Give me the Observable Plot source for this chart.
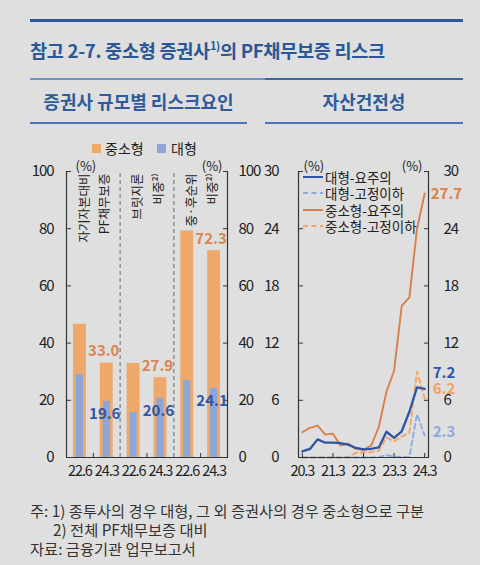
<!DOCTYPE html>
<html><head><meta charset="utf-8">
<script src="https://cdn.jsdelivr.net/npm/d3@7"></script>
<script src="https://cdn.jsdelivr.net/npm/@observablehq/plot@0.6"></script>
<style>
body{margin:0;background:#dfdfdf;}
#root{position:relative;width:480px;height:565px;overflow:hidden;background:#dfdfdf;font-family:"Noto Sans CJK KR","Noto Sans",sans-serif;color:#222;}
.abs{position:absolute;white-space:nowrap;}
.hline{position:absolute;height:0;}
#root svg g[aria-label$="tick label"] text{letter-spacing:-1.1px;}
</style></head>
<body>
<div id="root">
  <div class="hline" style="left:30px;top:19px;width:433px;border-top:3px solid #2b5797"></div>
  <div class="abs" style="left:30px;top:36px;font-size:18.6px;font-weight:bold;color:#2b5797;letter-spacing:-0.3px">참고 2-7. 중소형 증권사<sup style="font-size:11px;vertical-align:8px">1)</sup>의 PF채무보증 리스크</div>
  <div class="hline" style="left:30px;top:78px;width:235px;border-top:2px solid #6f93c8"></div>
  <div class="hline" style="left:265px;top:78px;width:198px;border-top:2px solid #3d66ab"></div>
  <div class="abs" style="left:30px;width:217px;top:88px;text-align:center;font-size:18px;font-weight:bold;color:#2f5b9a">증권사 규모별 리스크요인</div>
  <div class="abs" style="left:265px;width:198px;top:88px;text-align:center;font-size:18px;font-weight:bold;color:#2f5b9a">자산건전성</div>
  <div class="hline" style="left:30px;top:122px;width:217px;border-top:2px solid #4a74b4"></div>
  <div class="hline" style="left:265px;top:122px;width:198px;border-top:2px solid #4a74b4"></div>

  <div class="abs" style="left:92px;top:144px;width:9px;height:9px;background:#eea86a"></div>
  <div class="abs" style="left:105px;top:139px;font-size:14px;line-height:18px">중소형</div>
  <div class="abs" style="left:157px;top:144px;width:9px;height:9px;background:#8ca6d8"></div>
  <div class="abs" style="left:171px;top:139px;font-size:14px;line-height:18px">대형</div>

  <div id="left" class="abs" style="left:0;top:140px"></div>
  <div id="right" class="abs" style="left:260px;top:140px"></div>
  <div id="legend" class="abs" style="left:303px;top:169px;font-size:13.5px;line-height:16.3px"></div>

  <div class="abs" style="left:30px;top:501px;font-size:15.3px;color:#333;line-height:19px">주: 1) 종투사의 경우 대형, 그 외 증권사의 경우 중소형으로 구분<br><span style="padding-left:23px">2) 전체 PF채무보증 대비</span><br>자료: 금융기관 업무보고서</div>
</div>
<script>
// ---------- data: left panel ----------
const periods = ["22.6", "24.3", "22.6", "24.3", "22.6", "24.3"];
const groupLabels = ["자기자본대비\nPF채무보증", "브릿지론\n비중²⁾", "중·후순위\n비중²⁾"];
const smallShare = [46.6, 33.0, 32.9, 27.9, 79.2, 72.3];   // 중소형
const largeShare = [28.9, 19.6, 15.7, 20.6, 26.9, 24.1];   // 대형
const leftTicks = [0, 20, 40, 60, 80, 100];

// ---------- data: right panel ----------
const quarters = ["20.3","20.6","20.9","20.12","21.3","21.6","21.9","21.12","22.3","22.6","22.9","22.12","23.3","23.6","23.9","23.12","24.3"];
const quarterTicks = ["20.3","21.3","22.3","23.3","24.3"];
const largeWatch   = [0.65, 0.9, 1.9, 1.55, 1.55, 1.5, 1.35, 1.0, 0.85, 0.9, 1.05, 2.7, 2.05, 2.75, 4.8, 7.35, 7.2];   // 대형-요주의
const largeSub     = [0, 0, 0, 0, 0, 0, 0, 0, 0, 0, 0.05, 0.25, 0.1, 0.05, 0.05, 4.55, 2.3];                           // 대형-고정이하
const smallWatch   = [2.65, 3.1, 3.35, 2.4, 2.5, 1.25, 1.45, 0.9, 0.8, 1.25, 3.2, 6.9, 9.1, 15.9, 16.8, 24.0, 27.7];   // 중소형-요주의
const smallSub     = [0, 0, 0, 0, 0, 0, 0.05, 0.5, 0.55, 0.55, 0.7, 2.1, 1.7, 2.2, 2.6, 9.0, 6.2];                      // 중소형-고정이하
const rightTicks = [0, 6, 12, 18, 24, 30];
const seriesNames = ["대형-요주의", "대형-고정이하", "중소형-요주의", "중소형-고정이하"];

const ORANGE = "#eea86a", BLUE = "#8ca6d8";
const ORANGE_TXT = "#d9854f", BLUE_TXT = "#2f56a6";
const LC = {"대형-요주의": "#2e55a5", "대형-고정이하": "#8eaadf", "중소형-요주의": "#d9804a", "중소형-고정이하": "#f3a566"};
const DASH = {"대형-요주의": null, "대형-고정이하": "5,3.5", "중소형-요주의": null, "중소형-고정이하": "5,3.5"};
const FONT = "'Noto Sans CJK KR','Noto Sans',sans-serif";
const AX = "#333";

// ---------- left chart ----------
const leftData = periods.map((p, i) => ({i, period: p, small: smallShare[i], large: largeShare[i]}));
const groups = groupLabels.map((g, k) => ({k, label: g}));
const labeled = leftData.filter(d => d.i % 2 === 1);

const left = Plot.plot({
  width: 260, height: 345,
  marginLeft: 66, marginRight: 33, marginTop: 31, marginBottom: 28,
  style: {background: "transparent", fontFamily: FONT, fontSize: "14px", color: "#222", overflow: "visible"},
  x: {domain: [0, 6], axis: null, label: null},
  y: {domain: [0, 100], axis: null, label: null},
  marks: [
    Plot.ruleX([2, 4], {y1: 0, y2: 100, stroke: "#8c8c8c", strokeWidth: 1.4, strokeDasharray: "4,3"}),
    Plot.rectY(leftData, {x1: d => d.i + 0.26, x2: d => d.i + 0.74, y: "small", fill: ORANGE}),
    Plot.rectY(leftData, {x1: d => d.i + 0.37, x2: d => d.i + 0.63, y: "large", fill: BLUE}),
    Plot.ruleX([0, 6], {y1: 0, y2: 100, stroke: AX, strokeWidth: 1.2}),
    Plot.ruleY([0], {stroke: AX, strokeWidth: 1.2}),
    Plot.axisY(leftTicks, {anchor: "left", tickSize: 0, tickPadding: 13, label: null, fontSize: 15}),
    Plot.axisY(leftTicks, {anchor: "left", tickSize: -5, tickFormat: () => "", label: null, stroke: AX}),
    Plot.axisY(leftTicks, {anchor: "right", tickSize: 0, tickPadding: 11, label: null, fontSize: 15}),
    Plot.axisY(leftTicks, {anchor: "right", tickSize: -5, tickFormat: () => "", label: null, stroke: AX}),
    Plot.axisX([1, 3, 5], {anchor: "bottom", tickSize: -4, tickFormat: () => "", label: null, stroke: AX}),
    Plot.axisX(leftData.map(d => d.i + 0.5), {anchor: "bottom", tickSize: 0, tickPadding: 8, tickFormat: d => periods[Math.round(d - 0.5)], label: null, fontSize: 14.5}),
    Plot.text(groups, {x: d => d.k * 2 + 1, y: 100, text: "label", rotate: -90, textAnchor: "end", lineAnchor: "middle", lineHeight: 1.65, fontSize: 12.5, dy: 2, dx: -1}),
    Plot.text(labeled, {x: d => d.i + 0.5, y: "small", text: d => d.small.toFixed(1), dy: -12, dx: -3, fill: ORANGE_TXT, fontWeight: "bold", fontSize: 15}),
    Plot.text(labeled, {x: d => d.i + 0.5, y: "large", text: d => d.large.toFixed(1), dy: 13, dx: -2, fill: BLUE_TXT, fontWeight: "bold", fontSize: 15}),
    Plot.text(["(%)"], {frameAnchor: "top-left", dx: 9, dy: -10, fontSize: 13}),
    Plot.text(["(%)"], {frameAnchor: "top-right", dx: -5, dy: -10, fontSize: 13})
  ]
});
document.getElementById("left").appendChild(left);

// ---------- right chart ----------
const seriesVals = [largeWatch, largeSub, smallWatch, smallSub];
const rows = [];
seriesVals.forEach((vals, s) => vals.forEach((v, i) => rows.push({i, q: quarters[i], series: seriesNames[s], value: v})));
const drawOrder = ["중소형-요주의", "중소형-고정이하", "대형-고정이하", "대형-요주의"];
const lastOf = name => rows.filter(r => r.series === name && r.i === quarters.length - 1);
const tickIdx = quarterTicks.map(t => quarters.indexOf(t));

const right = Plot.plot({
  width: 220, height: 345,
  marginLeft: 38, marginRight: 52, marginTop: 31, marginBottom: 28,
  style: {background: "transparent", fontFamily: FONT, fontSize: "14px", color: "#222", overflow: "visible"},
  x: {domain: [-0.5, quarters.length - 0.5], axis: null, label: null},
  y: {domain: [0, 30], axis: null, label: null},
  marks: [
    ...drawOrder.map(name => Plot.line(rows.filter(r => r.series === name), {
      x: "i", y: "value", stroke: LC[name], strokeWidth: name === "대형-요주의" ? 2.3 : 1.9,
      strokeDasharray: DASH[name], strokeLinejoin: "round"
    })),
    Plot.ruleX([-0.5, quarters.length - 0.5], {y1: 0, y2: 30, stroke: AX, strokeWidth: 1.2}),
    Plot.ruleY([0], {stroke: AX, strokeWidth: 1.2}),
    Plot.axisY(rightTicks, {anchor: "left", tickSize: 0, tickPadding: 20, label: null, fontSize: 15}),
    Plot.axisY(rightTicks, {anchor: "left", tickSize: -5, tickFormat: () => "", label: null, stroke: AX}),
    Plot.axisY(rightTicks, {anchor: "right", tickSize: 0, tickPadding: 15, label: null, fontSize: 15}),
    Plot.axisY(rightTicks, {anchor: "right", tickSize: -5, tickFormat: () => "", label: null, stroke: AX}),
    Plot.axisX(tickIdx, {anchor: "bottom", tickSize: -4, tickFormat: () => "", label: null, stroke: AX}),
    Plot.axisX(tickIdx, {anchor: "bottom", tickSize: 0, tickPadding: 8, tickFormat: d => quarters[d], label: null, fontSize: 14.5}),
    Plot.text(lastOf("중소형-요주의"), {x: "i", y: "value", text: d => d.value.toFixed(1), textAnchor: "start", dx: 6, dy: 1, fill: "#d9804a", fontWeight: "bold", fontSize: 15}),
    Plot.text(lastOf("대형-요주의"), {x: "i", y: "value", text: d => d.value.toFixed(1), textAnchor: "start", dx: 8, dy: -16, fill: "#2e55a5", fontWeight: "bold", fontSize: 15}),
    Plot.text(lastOf("중소형-고정이하"), {x: "i", y: "value", text: d => d.value.toFixed(1), textAnchor: "start", dx: 8, dy: -9, fill: "#f0a060", fontWeight: "bold", fontSize: 15}),
    Plot.text(lastOf("대형-고정이하"), {x: "i", y: "value", text: d => d.value.toFixed(1), textAnchor: "start", dx: 8, dy: -3, fill: "#8eaadf", fontWeight: "bold", fontSize: 15}),
    Plot.text(["(%)"], {frameAnchor: "top-left", dx: 5, dy: -10, fontSize: 13}),
    Plot.text(["(%)"], {frameAnchor: "top-right", dx: -6, dy: -10, fontSize: 13})
  ]
});
document.getElementById("right").appendChild(right);

// ---------- legend (right panel) ----------
const leg = document.getElementById("legend");
seriesNames.forEach(name => {
  const row = document.createElement("div");
  row.style.cssText = "display:flex;align-items:center;height:16.3px";
  const dash = DASH[name] ? `stroke-dasharray="${DASH[name]}"` : "";
  row.innerHTML = `<svg width="20" height="6" style="margin-right:2px"><line x1="0" y1="3" x2="20" y2="3" stroke="${LC[name]}" stroke-width="2" ${dash}/></svg><span>${name}</span>`;
  leg.appendChild(row);
});
</script>
</body></html>
